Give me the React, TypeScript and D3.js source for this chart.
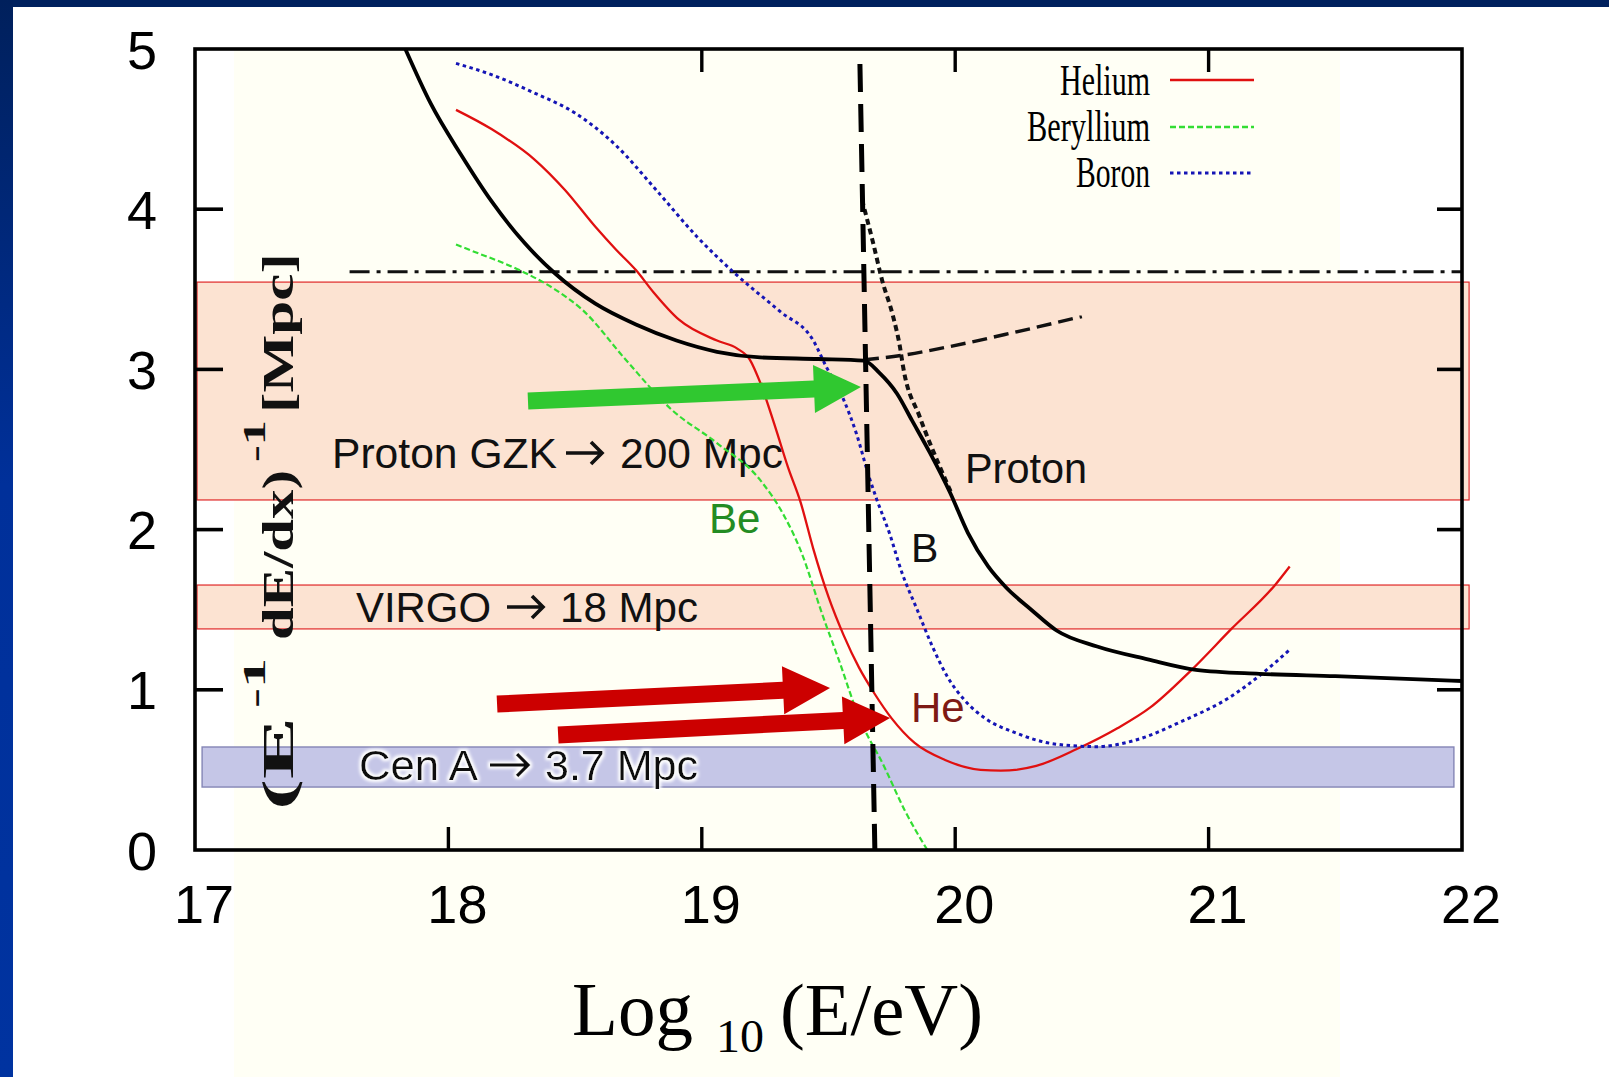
import React, { useEffect } from 'react';
import * as d3 from 'd3';

const W = 1609;
const H = 1077;

// Axis ranges and tick values
const xDomain: [number, number] = [17, 22];
const yDomain: [number, number] = [0, 5];
const xTickValues = [17, 18, 19, 20, 21, 22];
const yTickValues = [0, 1, 2, 3, 4, 5];
const xInnerTicks = [18, 19, 20, 21];
const xTopTicks = [19, 20, 21];
const yInnerTicks = [1, 2, 3, 4];

// Energy-loss length curves: [log10(E/eV), (E^-1 dE/dx)^-1]
const proton: [number, number][] = [
  [17.83, 5.0], [17.93, 4.66], [18.05, 4.34], [18.17, 4.05], [18.3, 3.79], [18.42, 3.6],
  [18.58, 3.41], [18.74, 3.28], [18.9, 3.18], [19.06, 3.11], [19.23, 3.075], [19.46, 3.065],
  [19.64, 3.055], [19.7, 2.98], [19.77, 2.85], [19.83, 2.68], [19.9, 2.48], [19.98, 2.23],
  [20.05, 1.98], [20.13, 1.77], [20.2, 1.64], [20.3, 1.5], [20.4, 1.37], [20.56, 1.27],
  [20.76, 1.19], [20.95, 1.125], [21.2, 1.1], [21.5, 1.085], [22.0, 1.055],
];

const helium: [number, number][] = [
  [18.03, 4.62], [18.17, 4.5], [18.34, 4.31], [18.46, 4.12], [18.58, 3.89], [18.66, 3.75],
  [18.74, 3.62], [18.81, 3.48], [18.91, 3.31], [19.06, 3.18], [19.14, 3.13], [19.19, 3.06],
  [19.23, 2.92], [19.29, 2.64], [19.34, 2.39], [19.39, 2.17], [19.44, 1.88], [19.5, 1.58],
  [19.56, 1.34], [19.62, 1.14], [19.68, 0.98], [19.75, 0.82], [19.84, 0.668],
  [19.96, 0.562], [20.1, 0.5], [20.18, 0.495], [20.32, 0.525], [20.48, 0.63], [20.64, 0.76],
  [20.77, 0.89], [20.93, 1.12], [21.09, 1.38], [21.26, 1.65], [21.32, 1.77],
];

const beryllium: [number, number][] = [
  [18.03, 3.78], [18.085, 3.745], [18.28, 3.62], [18.42, 3.5], [18.53, 3.37], [18.7, 3.06],
  [18.88, 2.75], [19.06, 2.54], [19.23, 2.31], [19.32, 2.1], [19.39, 1.87], [19.48, 1.45],
  [19.54, 1.19], [19.62, 0.83], [19.72, 0.52], [19.8, 0.25], [19.89, 0.0],
];

const boron: [number, number][] = [
  [18.03, 4.91], [18.17, 4.84], [18.34, 4.725], [18.5, 4.6], [18.66, 4.4], [18.82, 4.12],
  [18.98, 3.83], [19.13, 3.6], [19.31, 3.36], [19.44, 3.18], [19.49, 3.02], [19.56, 2.81],
  [19.61, 2.6], [19.66, 2.33], [19.69, 2.19], [19.74, 1.98], [19.79, 1.73], [19.85, 1.5],
  [19.91, 1.27], [19.97, 1.08], [20.04, 0.93], [20.12, 0.82], [20.24, 0.73], [20.4, 0.66],
  [20.56, 0.645], [20.72, 0.69], [20.89, 0.8], [21.09, 0.96], [21.21, 1.1], [21.32, 1.25],
];

// Proton reference curves (pair production and photo-pion branches)
const protonPair: [number, number][] = [
  [19.64, 3.06], [19.8, 3.09], [19.97, 3.14], [20.23, 3.23], [20.5, 3.33],
];
const protonPion: [number, number][] = [
  [19.632, 4.06], [19.676, 3.79], [19.711, 3.56], [19.755, 3.33], [19.782, 3.14],
  [19.794, 3.02], [19.861, 2.7], [19.94, 2.39], [19.987, 2.22],
];

// Horizontal reference level and the GZK cut marker
const refLevel = 3.61;
const refLevelStart = 17.61;
const gzkCut: [number, number][] = [[19.624, 4.906], [19.683, 0]];

// Source distance bands: [yLow, yHigh]
const protonBand: [number, number] = [2.185, 3.545];
const virgoBand: [number, number] = [1.38, 1.654];
const cenABand: [number, number] = [0.393, 0.643];

// Annotation arrows: [from, to] in data units
const greenArrow: [[number, number], [number, number]] = [[18.314, 2.803], [19.628, 2.89]];
const redArrowUpper: [[number, number], [number, number]] = [[18.192, 0.911], [19.506, 1.011]];
const redArrowLower: [[number, number], [number, number]] = [[18.433, 0.718], [19.743, 0.824]];

const legendNames = ['Helium', 'Beryllium', 'Boron'];

const SANS = '"Liberation Sans", Arial, sans-serif';
const SERIF = '"Liberation Serif", "Times New Roman", serif';

function arrowPolygon(
  x1: number, y1: number, x2: number, y2: number,
  shaftHalf = 8.5, headLen = 47, headHalf = 24
): string {
  const dx = x2 - x1;
  const dy = y2 - y1;
  const L = Math.hypot(dx, dy);
  const ux = dx / L, uy = dy / L;
  const nx = -uy, ny = ux;
  const bx = x2 - ux * headLen, by = y2 - uy * headLen;
  const pts = [
    [x1 + nx * shaftHalf, y1 + ny * shaftHalf],
    [bx + nx * shaftHalf, by + ny * shaftHalf],
    [bx + nx * headHalf, by + ny * headHalf],
    [x2, y2],
    [bx - nx * headHalf, by - ny * headHalf],
    [bx - nx * shaftHalf, by - ny * shaftHalf],
    [x1 - nx * shaftHalf, y1 - ny * shaftHalf],
  ];
  return pts.map((p) => p.join(',')).join(' ');
}

// Typographic "→" drawn as a stroke, sized to the caption lettering
function textArrow(x0: number, x1: number, yc: number): string {
  const h = 11;
  return `M${x0},${yc}L${x1 - 2},${yc}M${x1 - h},${yc - h}L${x1},${yc}L${x1 - h},${yc + h}`;
}

type Caption = {
  left: string; leftX: number; leftLen: number;
  arrow: [number, number];
  right: string; rightX: number; rightLen: number;
  base: number; size: number; halo?: boolean;
};

const captions: Caption[] = [
  { left: 'Proton GZK', leftX: 332, leftLen: 225, arrow: [566, 602], right: '200 Mpc', rightX: 620, rightLen: 163, base: 468, size: 42 },
  { left: 'VIRGO', leftX: 356, leftLen: 135, arrow: [507, 543], right: '18 Mpc', rightX: 560, rightLen: 138, base: 622, size: 43 },
  { left: 'Cen A', leftX: 359, leftLen: 119, arrow: [490, 528], right: '3.7 Mpc', rightX: 545, rightLen: 153, base: 780, size: 43, halo: true },
];

export default function App() {
  useEffect(() => {
    document.body.style.margin = '0';
    document.body.style.overflow = 'hidden';
  }, []);

  const x = d3.scaleLinear().domain(xDomain).range([195, 1462]);
  const y = d3.scaleLinear().domain(yDomain).range([850, 49]);

  const line = d3
    .line<[number, number]>()
    .x((d) => x(d[0]))
    .y((d) => y(d[1]))
    .curve(d3.curveMonotoneX);
  const straight = d3
    .line<[number, number]>()
    .x((d) => x(d[0]))
    .y((d) => y(d[1]));

  const bandX0 = x(17.008);
  const bandX1 = x(22.028);
  const cenX0 = x(17.028);
  const cenX1 = x(21.968);

  const arrows = [
    { seg: greenArrow, color: '#30c830' },
    { seg: redArrowUpper, color: '#cc0000' },
    { seg: redArrowLower, color: '#cc0000' },
  ];

  const legendStyles = [
    { stroke: '#e01010', dash: undefined as string | undefined, width: 2.5, textX: 1060, len: 90, base: 95, ly: 80 },
    { stroke: '#33dd33', dash: '6 3', width: 2.5, textX: 1027, len: 123, base: 141, ly: 127 },
    { stroke: '#1515b5', dash: '3.5 3.5', width: 3.2, textX: 1076, len: 74, base: 187, ly: 173 },
  ];

  return (
    <svg
      width={W}
      height={H}
      viewBox={`0 0 ${W} ${H}`}
      style={{ position: 'absolute', left: 0, top: 0, display: 'block' }}
    >
      <defs>
        <linearGradient id="frameLeft" x1="0" y1="0" x2="0" y2="1">
          <stop offset="0" stopColor="#00205c" />
          <stop offset="0.45" stopColor="#00309a" />
          <stop offset="1" stopColor="#0033a0" />
        </linearGradient>
        <filter id="halo" x="-10%" y="-30%" width="120%" height="160%">
          <feMorphology in="SourceAlpha" operator="dilate" radius="2" result="d" />
          <feGaussianBlur in="d" stdDeviation="1.6" result="b" />
          <feFlood floodColor="#ffffff" />
          <feComposite in2="b" operator="in" result="w" />
          <feMerge>
            <feMergeNode in="w" />
            <feMergeNode in="SourceGraphic" />
          </feMerge>
        </filter>
        <clipPath id="plotClip">
          <rect x={195} y={49} width={1267} height={801} />
        </clipPath>
      </defs>

      {/* page background and slide frame */}
      <rect x={0} y={0} width={W} height={H} fill="#ffffff" />
      <rect x={234} y={49} width={1106} height={H - 49} fill="#fffff5" />
      <rect x={0} y={0} width={W} height={7} fill="#00215e" />
      <rect x={0} y={0} width={13} height={H} fill="url(#frameLeft)" />

      {/* distance bands */}
      <rect x={bandX0} y={y(protonBand[1])} width={bandX1 - bandX0}
        height={y(protonBand[0]) - y(protonBand[1])} fill="#fce3d2" stroke="#e02828" strokeWidth={1.2} />
      <rect x={bandX0} y={y(virgoBand[1])} width={bandX1 - bandX0}
        height={y(virgoBand[0]) - y(virgoBand[1])} fill="#fce3d2" stroke="#e02828" strokeWidth={1.2} />
      <rect x={cenX0} y={y(cenABand[1])} width={cenX1 - cenX0}
        height={y(cenABand[0]) - y(cenABand[1])} fill="#c5c6e7" stroke="#8485b5" strokeWidth={1.4} />

      {/* band captions */}
      {captions.map((c) => (
        <g key={c.left} fontFamily={SANS} fontSize={c.size} fill="#111"
          filter={c.halo ? 'url(#halo)' : undefined}>
          <text x={c.leftX} y={c.base} textLength={c.leftLen} lengthAdjust="spacingAndGlyphs">{c.left}</text>
          <path d={textArrow(c.arrow[0], c.arrow[1], c.base - 15)} fill="none" stroke="#111"
            strokeWidth={3.6} strokeLinejoin="miter" />
          <text x={c.rightX} y={c.base} textLength={c.rightLen} lengthAdjust="spacingAndGlyphs">{c.right}</text>
        </g>
      ))}

      {/* y-axis title (inside the frame) */}
      <g transform="translate(293,0) rotate(-90)" fontFamily={SERIF} fontWeight="bold" fill="#111">
        <text x={-810} y={0} fontSize={45} textLength={93} lengthAdjust="spacingAndGlyphs">(E</text>
        <text x={-708} y={-28} fontSize={32} textLength={50} lengthAdjust="spacingAndGlyphs">-1</text>
        <text x={-640} y={0} fontSize={45} textLength={170} lengthAdjust="spacingAndGlyphs">dE/dx)</text>
        <text x={-462} y={-28} fontSize={32} textLength={42} lengthAdjust="spacingAndGlyphs">-1</text>
        <text x={-413} y={0} fontSize={45} textLength={160} lengthAdjust="spacingAndGlyphs">[Mpc]</text>
      </g>

      <g clipPath="url(#plotClip)" fill="none">
        {/* reference level */}
        <path d={straight([[refLevelStart, refLevel], [22, refLevel]]) || ''}
          stroke="#111" strokeWidth={3} strokeDasharray="20 7 4 7" />
        {/* species curves */}
        <path d={line(beryllium) || ''} stroke="#33dd33" strokeWidth={2.2} strokeDasharray="6 3" />
        <path d={line(helium) || ''} stroke="#e01010" strokeWidth={2.3} />
        <path d={line(boron) || ''} stroke="#1515b5" strokeWidth={3} strokeDasharray="3.5 3.5" />
        {/* proton curves */}
        <path d={line(protonPair) || ''} stroke="#111" strokeWidth={3.4} strokeDasharray="15 7" />
        <path d={line(protonPion) || ''} stroke="#111" strokeWidth={4} strokeDasharray="6 4" />
        <path d={line(proton) || ''} stroke="#000" strokeWidth={3.8} />
        {/* GZK cut */}
        <path d={straight(gzkCut) || ''} stroke="#000" strokeWidth={5} strokeDasharray="28 12" />
      </g>

      {/* curve labels */}
      <text x={965} y={483} fontFamily={SANS} fontSize={42} fill="#111"
        textLength={122} lengthAdjust="spacingAndGlyphs">Proton</text>
      <text x={709} y={533} fontFamily={SANS} fontSize={42} fill="#238c23">Be</text>
      <text x={911} y={562} fontFamily={SANS} fontSize={41} fill="#111">B</text>
      <text x={911} y={722} fontFamily={SANS} fontSize={42} fill="#7e1a14">He</text>

      {/* annotation arrows */}
      {arrows.map((a, i) => (
        <polygon key={i}
          points={arrowPolygon(x(a.seg[0][0]), y(a.seg[0][1]), x(a.seg[1][0]), y(a.seg[1][1]))}
          fill={a.color} />
      ))}

      {/* frame and ticks */}
      <rect x={195} y={49} width={1267} height={801} fill="none" stroke="#000" strokeWidth={3.6} />
      {yInnerTicks.map((v) => (
        <g key={'yt' + v} stroke="#000" strokeWidth={3.6}>
          <line x1={195} x2={223} y1={y(v)} y2={y(v)} />
          <line x1={1462} x2={1437} y1={y(v)} y2={y(v)} />
        </g>
      ))}
      {xInnerTicks.map((v) => (
        <line key={'xb' + v} x1={x(v)} x2={x(v)} y1={850} y2={827} stroke="#000" strokeWidth={3.4} />
      ))}
      {xTopTicks.map((v) => (
        <line key={'xt' + v} x1={x(v)} x2={x(v)} y1={49} y2={72} stroke="#000" strokeWidth={3.4} />
      ))}

      {/* tick labels */}
      {yTickValues.map((v) => (
        <text key={'yl' + v} x={157} y={y(v) + 19.5} textAnchor="end"
          fontFamily={SANS} fontSize={54} fill="#000">{v}</text>
      ))}
      {xTickValues.map((v) => (
        <text key={'xl' + v} x={x(v) + 9} y={923} textAnchor="middle"
          fontFamily={SANS} fontSize={54} fill="#000">{v}</text>
      ))}

      {/* x-axis title */}
      <g fontFamily={SERIF} fill="#000">
        <text x={572} y={1035} fontSize={76} textLength={121} lengthAdjust="spacingAndGlyphs">Log</text>
        <text x={716} y={1052} fontSize={46} textLength={48} lengthAdjust="spacingAndGlyphs">10</text>
        <text x={780} y={1035} fontSize={74} textLength={203} lengthAdjust="spacingAndGlyphs">(E/eV)</text>
      </g>

      {/* legend */}
      {legendNames.map((name, i) => {
        const s = legendStyles[i];
        return (
          <g key={name}>
            <text x={s.textX} y={s.base} fontFamily={SERIF} fontSize={44} fill="#000"
              textLength={s.len} lengthAdjust="spacingAndGlyphs">{name}</text>
            <line x1={1170} x2={1254} y1={s.ly} y2={s.ly} stroke={s.stroke}
              strokeWidth={s.width} strokeDasharray={s.dash} />
          </g>
        );
      })}
    </svg>
  );
}
